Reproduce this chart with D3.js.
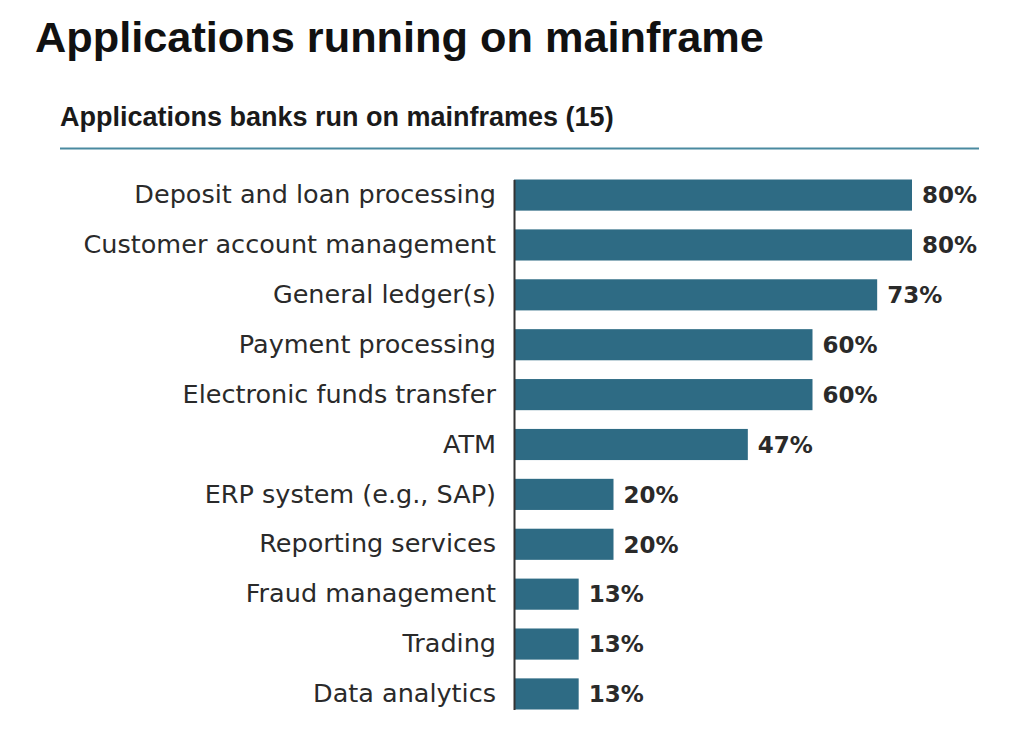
<!DOCTYPE html>
<html>
<head>
<meta charset="utf-8">
<script src="https://cdn.jsdelivr.net/npm/d3@7"></script>
<style>
  body { margin: 0; background: #fff; }
  svg { display: block; }
</style>
</head>
<body>
<script>
// chart data
var categories = [
  "Deposit and loan processing",
  "Customer account management",
  "General ledger(s)",
  "Payment processing",
  "Electronic funds transfer",
  "ATM",
  "ERP system (e.g., SAP)",
  "Reporting services",
  "Fraud management",
  "Trading",
  "Data analytics"
];
var shares = [80, 80, 73, 60, 60, 47, 20, 20, 13, 13, 13];

var title = "Applications running on mainframe";
var subtitle = "Applications banks run on mainframes (15)";

var svgWidth = 1024;
var svgHeight = 739;

var svg = d3.select("body")
  .append("svg")
  .attr("width", svgWidth)
  .attr("height", svgHeight);

// headings
svg.append("text")
  .attr("x", 35)
  .attr("y", 52)
  .attr("font-family", "Liberation Sans, Arial, sans-serif")
  .attr("font-weight", "bold")
  .attr("font-size", 43.3)
  .attr("fill", "#111")
  .text(title);

svg.append("text")
  .attr("x", 60)
  .attr("y", 126)
  .attr("font-family", "Liberation Sans, Arial, sans-serif")
  .attr("font-weight", "bold")
  .attr("font-size", 27)
  .attr("fill", "#1a1a1a")
  .text(subtitle);

svg.append("line")
  .attr("x1", 60)
  .attr("x2", 979)
  .attr("y1", 148.5)
  .attr("y2", 148.5)
  .attr("stroke", "#4a8aa0")
  .attr("stroke-width", 2);

// scales
var x = d3.scaleLinear()
  .domain([0, 100])
  .range([514, 1011.5]);

var y = d3.scaleBand()
  .domain(categories)
  .range([179.5, 709.5])
  .paddingInner(0.376)
  .paddingOuter(0);

// bars
svg.append("g")
  .selectAll("rect")
  .data(shares)
  .join("rect")
  .attr("x", x(0))
  .attr("y", function(d, i) { return y(categories[i]); })
  .attr("width", function(d) { return x(d) - x(0); })
  .attr("height", y.bandwidth())
  .attr("fill", "#2e6b84");

// category axis
var leftAxis = d3.axisLeft(y)
  .tickSizeInner(0)
  .tickSizeOuter(0)
  .tickPadding(18);

var axisG = svg.append("g")
  .attr("transform", "translate(" + x(0) + ",0)")
  .call(leftAxis);

axisG.select(".domain")
  .attr("stroke", "#333")
  .attr("stroke-width", 2);

axisG.selectAll(".tick text")
  .attr("font-family", "DejaVu Sans, sans-serif")
  .attr("font-size", 25.5)
  .attr("fill", "#2a2a2a");

// value labels
svg.append("g")
  .selectAll("text")
  .data(shares)
  .join("text")
  .attr("x", function(d) { return x(d) + 10; })
  .attr("y", function(d, i) { return y(categories[i]) + y.bandwidth() / 2; })
  .attr("dy", "0.36em")
  .attr("font-family", "DejaVu Sans, sans-serif")
  .attr("font-weight", "bold")
  .attr("font-size", 23)
  .attr("fill", "#2a2a2a")
  .text(function(d) { return d + "%"; });
</script>
</body>
</html>
